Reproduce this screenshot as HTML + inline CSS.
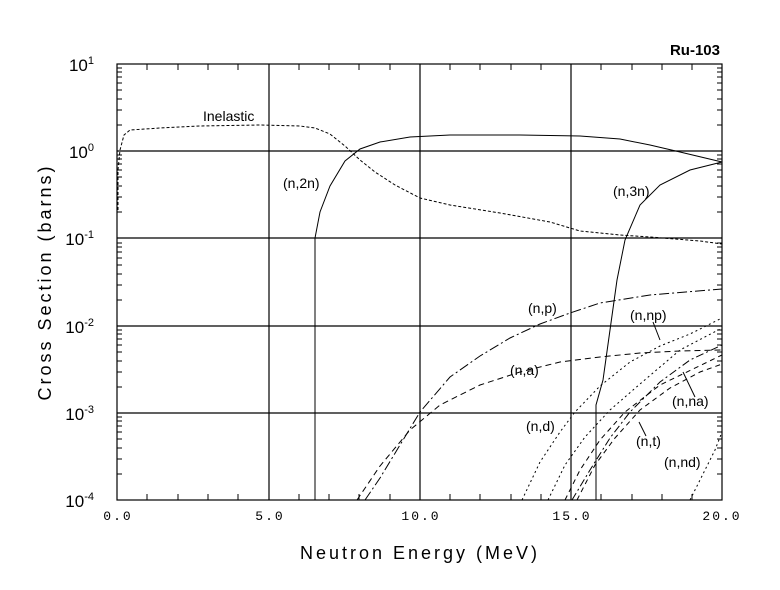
<!DOCTYPE html>
<html><head><style>body{margin:0;background:#fff}svg{display:block}</style></head><body>
<svg width="780" height="590" viewBox="0 0 780 590" xmlns="http://www.w3.org/2000/svg" font-family="Liberation Sans, sans-serif">
<rect width="780" height="590" fill="#fff"/>
<g stroke="#000" stroke-width="1.2" fill="none">
<rect x="117" y="64" width="605" height="436"/>
<line x1="117" y1="151" x2="722" y2="151"/><line x1="117" y1="238" x2="722" y2="238"/>
<line x1="117" y1="326" x2="722" y2="326"/><line x1="117" y1="413" x2="722" y2="413"/>
<line x1="269" y1="64" x2="269" y2="500"/><line x1="420" y1="64" x2="420" y2="500"/><line x1="571" y1="64" x2="571" y2="500"/>
</g>
<g stroke="#000" stroke-width="1">
<path d="M147 64v6M178 64v6M208 64v6M238 64v6M299 64v6M329 64v6M359 64v6M390 64v6M450 64v6M480 64v6M511 64v6M541 64v6M601 64v6M632 64v6M662 64v6M692 64v6
M147 500v-6M178 500v-6M208 500v-6M238 500v-6M299 500v-6M329 500v-6M359 500v-6M390 500v-6M450 500v-6M480 500v-6M511 500v-6M541 500v-6M601 500v-6M632 500v-6M662 500v-6M692 500v-6"/>
</g>
<g stroke="#000" stroke-width="1" fill="none">
<polyline stroke-dasharray="3,2" points="118,210 118,170 120,150 124,135 130,130 160,128 200,126 260,125 300,126 315,128 330,134 345,146 360,160 375,172 395,185 420,198 450,205 500,213 550,222 580,231 620,235 650,237 700,241 722,244"/>
<polyline points="315,500 315,238 320,212 330,186 345,161 360,149 380,142 410,137 450,135 520,135 580,136 620,139 650,145 680,152 722,162"/>
<polyline points="596,500 596,405 603,380 610,330 617,280 625,240 640,205 660,185 690,170 722,162"/>
<polyline stroke-dasharray="10,3,2,3" points="365,500 380,478 400,445 420,412 450,377 480,356 510,338 540,324 570,313 600,303 650,295 722,289"/>
<polyline stroke-dasharray="6,4" points="357,500 380,466 410,430 440,405 480,385 520,372 560,362 600,357 640,353 680,351 722,350"/>
<polyline stroke-dasharray="2,3" points="522,500 540,462 560,432 575,412 600,386 630,362 660,346 690,334 722,318"/>
<polyline stroke-dasharray="2,3" points="548,500 565,465 585,437 610,410 640,384 680,350 722,328"/>
<polyline stroke-dasharray="8,3,2,3" points="572,500 590,470 610,438 630,412 660,382 690,360 722,345"/>
<polyline stroke-dasharray="5,4" points="577,500 595,465 615,438 640,410 670,388 700,372 722,364"/>
<polyline stroke-dasharray="5,4" points="565,500 580,470 600,440 625,412 660,385 722,355"/>
<polyline stroke-dasharray="2,3" points="690,500 705,470 715,450 722,432"/>
<line x1="653" y1="322" x2="660" y2="340"/><line x1="683" y1="372" x2="695" y2="397"/><line x1="639" y1="422" x2="646" y2="436"/>
</g>
<g font-size="14" fill="#000">
<text x="203" y="121">Inelastic</text>
<text x="283" y="188">(n,2n)</text>
<text x="613" y="196">(n,3n)</text>
<text x="528" y="313">(n,p)</text>
<text x="630" y="320">(n,np)</text>
<text x="510" y="375">(n,a)</text>
<text x="672" y="406">(n,na)</text>
<text x="526" y="431">(n,d)</text>
<text x="636" y="446">(n,t)</text>
<text x="664" y="467">(n,nd)</text>
</g>
<text x="720" y="55" text-anchor="end" font-size="15" font-weight="bold">Ru-103</text>
<g font-family="Liberation Mono, monospace" font-size="13" text-anchor="middle" letter-spacing="2">
<text x="118" y="520">0.0</text><text x="270" y="520">5.0</text><text x="421" y="520">10.0</text><text x="572" y="520">15.0</text><text x="722" y="520">20.0</text>
</g>
<g font-family="Liberation Sans, sans-serif" font-size="17" text-anchor="end">
<text x="94" y="71">10<tspan font-size="11" dy="-7">1</tspan></text>
<text x="94" y="158">10<tspan font-size="11" dy="-7">0</tspan></text>
<text x="94" y="245">10<tspan font-size="11" dy="-7">-1</tspan></text>
<text x="94" y="333">10<tspan font-size="11" dy="-7">-2</tspan></text>
<text x="94" y="420">10<tspan font-size="11" dy="-7">-3</tspan></text>
<text x="94" y="507">10<tspan font-size="11" dy="-7">-4</tspan></text>
</g>
<text x="420" y="559" text-anchor="middle" font-size="18" letter-spacing="3">Neutron Energy (MeV)</text>
<text transform="translate(51,282) rotate(-90)" text-anchor="middle" font-size="18" letter-spacing="3">Cross Section (barns)</text>
<g stroke="#000" stroke-width="1">
<path d="
M117 125h5M117 110h5M117 99h5M117 90h5M117 83h5M117 77h5M117 72h5M117 68h5
M117 212h5M117 197h5M117 186h5M117 177h5M117 170h5M117 164h5M117 159h5M117 155h5
M117 300h5M117 285h5M117 274h5M117 265h5M117 258h5M117 252h5M117 247h5M117 243h5
M117 387h5M117 372h5M117 361h5M117 352h5M117 345h5M117 339h5M117 334h5M117 330h5
M117 474h5M117 459h5M117 448h5M117 439h5M117 432h5M117 426h5M117 421h5M117 417h5
M722 125h-5M722 110h-5M722 99h-5M722 90h-5M722 83h-5M722 77h-5M722 72h-5M722 68h-5
M722 212h-5M722 197h-5M722 186h-5M722 177h-5M722 170h-5M722 164h-5M722 159h-5M722 155h-5
M722 300h-5M722 285h-5M722 274h-5M722 265h-5M722 258h-5M722 252h-5M722 247h-5M722 243h-5
M722 387h-5M722 372h-5M722 361h-5M722 352h-5M722 345h-5M722 339h-5M722 334h-5M722 330h-5
M722 474h-5M722 459h-5M722 448h-5M722 439h-5M722 432h-5M722 426h-5M722 421h-5M722 417h-5"/>
</g>
</svg>
</body></html>
